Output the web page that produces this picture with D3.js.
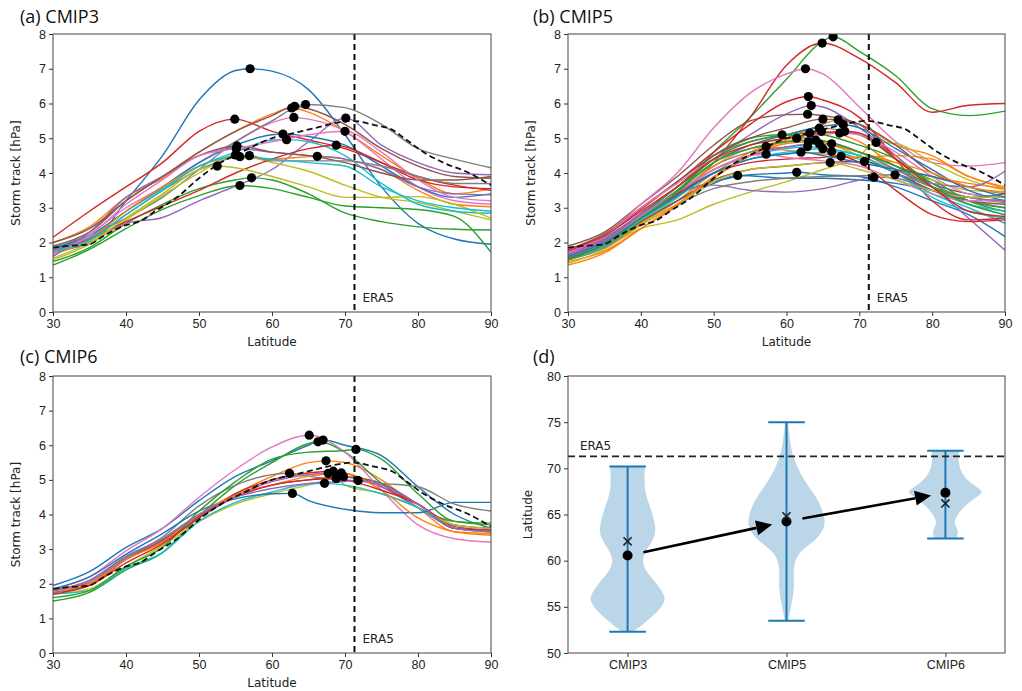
<!DOCTYPE html>
<html>
<head>
<meta charset="utf-8">
<script src="https://cdnjs.cloudflare.com/ajax/libs/d3/7.8.5/d3.min.js"></script>
<style>
  body { margin: 0; background: #fff; }
  svg { display: block; }
</style>
</head>
<body>
<div id="chart"></div>
<script>
// latitudes where every model curve is sampled
var latGrid = [30, 35, 40, 45, 50, 55, 60, 65, 70, 75, 80, 85, 90];

// ERA5 reference storm track (dashed) and its peak latitude
var era5Curve = [[30,1.85],[32,1.9],[35,1.95],[37,2.2],[40,2.5],[42,2.62],[44,2.9],[47,3.3],[50,3.85],[53,4.3],[56,4.62],[60,5.0],[63,5.15],[66,5.3],[69,5.45],[71,5.5],[74,5.38],[76.5,5.24],[78,5.02],[81,4.57],[84,4.25],[86.5,4.05],[90,3.65]];
var era5Lat = 71.3;

// CMIP3 models: values on latGrid, and [lat, value] of each maximum
var cmip3Values = [
  [1.8,1.95,3.2,4.5,6.1,6.95,6.93,6.4,5.1,3.6,2.55,2.1,1.95],
  [2.0,2.45,3.3,3.85,4.6,5.2,5.7,5.75,5.2,4.5,3.85,3.4,3.55],
  [1.45,1.85,2.55,3.1,3.55,3.8,3.8,3.4,2.85,2.6,2.45,2.38,2.36],
  [2.15,2.9,3.6,4.3,5.2,5.5,5.2,4.95,4.7,4.3,3.9,3.65,3.5],
  [1.7,2.0,2.55,2.72,3.2,3.62,4.1,4.9,5.55,4.8,4.3,4.0,3.95],
  [1.9,2.3,3.2,3.9,4.6,5.2,5.65,5.85,5.4,4.7,4.2,3.9,3.85],
  [1.75,2.25,3.0,3.6,4.3,4.9,5.45,5.55,5.2,4.4,3.6,3.2,3.1],
  [1.9,2.2,2.7,3.3,4.1,4.9,5.5,5.96,5.88,5.4,4.7,4.4,4.15],
  [1.5,1.95,2.65,3.35,4.0,4.5,4.3,4.05,3.65,3.3,3.15,2.9,2.65],
  [1.85,2.15,2.9,3.55,4.2,4.6,4.95,4.9,4.5,3.7,3.1,2.9,2.84],
  [1.85,2.2,2.9,3.6,4.3,4.8,5.1,5.05,4.8,4.2,3.6,3.3,3.4],
  [1.65,2.1,2.9,3.6,4.2,4.45,4.4,4.47,4.4,4.1,3.5,3.1,3.03],
  [1.35,1.8,2.4,2.95,3.35,3.62,3.55,3.3,3.05,3.0,2.95,2.75,1.72],
  [1.8,2.1,2.6,3.05,3.5,4.0,4.4,4.7,4.75,4.3,3.8,3.6,3.55],
  [1.6,2.3,3.3,3.9,4.5,4.7,4.6,4.5,4.4,4.1,3.6,3.4,3.37],
  [2.0,2.4,3.2,3.9,4.5,4.75,4.6,4.5,4.3,4.0,3.8,3.8,3.9],
  [1.7,2.2,3.1,3.8,4.5,4.7,4.9,5.1,5.2,4.6,3.8,3.3,3.2],
  [1.8,2.1,2.8,3.5,4.1,4.45,4.35,4.35,4.35,4.2,3.9,3.7,3.7],
  [1.55,2.0,2.7,3.4,4.1,4.15,3.9,3.6,3.3,3.3,3.32,3.1,2.7],
  [1.75,2.05,2.8,3.5,4.2,4.45,4.4,4.3,4.2,3.6,3.2,3.0,2.9]
];
var cmip3Peaks = [[57,7.0],[62.7,5.87],[57.2,3.86],[54.9,5.55],[70.1,5.58],[63.1,5.92],[63.0,5.6],[64.6,5.97],[55,4.52],[62,4.96],[61.5,5.12],[66.2,4.48],[55.6,3.64],[68.8,4.8],[55.1,4.7],[55.2,4.78],[70,5.2],[56.9,4.5],[52.5,4.2],[55.6,4.47]];

// CMIP5 models
var cmip5Values = [
  [1.7,2.1,2.8,3.4,3.75,3.95,4.0,3.95,3.9,3.6,3.2,2.8,2.17],
  [1.5,1.85,2.55,3.2,4.0,4.6,5.0,5.4,5.4,4.8,4.5,3.9,3.6],
  [1.65,2.05,2.75,3.45,4.6,5.6,6.7,7.8,7.5,6.8,5.85,5.65,5.78],
  [1.6,2.0,2.7,3.3,4.3,5.6,7.1,7.72,7.3,6.6,5.75,5.95,6.0],
  [1.7,2.1,2.85,3.6,4.4,5.1,5.7,5.9,5.3,4.5,3.6,2.7,1.78],
  [1.9,2.3,3.1,3.9,4.8,5.5,5.68,5.65,5.4,4.4,3.7,3.4,3.3],
  [1.75,2.2,3.1,4.0,5.3,6.3,6.85,6.85,5.9,4.9,4.3,4.2,4.3],
  [1.7,2.15,2.8,3.6,4.5,4.9,5.1,5.28,5.1,4.4,3.6,3.3,3.2],
  [1.5,1.85,2.4,2.65,3.1,3.45,3.75,4.1,4.5,4.85,4.3,3.8,3.5],
  [1.6,1.95,2.65,3.35,4.0,4.4,4.55,4.6,4.4,4.0,3.4,3.0,2.55],
  [1.55,1.9,2.6,3.2,3.7,3.92,3.85,3.85,3.8,3.7,3.5,3.3,3.4],
  [1.45,1.75,2.4,3.05,3.85,4.5,4.95,5.2,4.9,4.2,3.9,3.7,3.55],
  [1.6,2.0,2.8,3.6,4.5,5.0,5.05,4.9,4.6,4.2,3.8,3.2,2.9],
  [1.75,2.2,2.95,3.75,4.6,5.4,6.05,6.1,5.6,4.4,3.2,2.65,2.7],
  [1.7,2.1,2.8,3.4,3.65,3.5,3.45,3.55,3.8,3.85,3.5,3.2,3.0],
  [1.8,2.25,3.0,3.75,4.5,5.0,5.3,5.55,5.4,4.8,4.0,3.6,3.4],
  [1.7,2.2,3.0,3.7,4.4,4.7,4.9,5.1,5.1,4.6,3.9,3.4,3.3],
  [1.6,2.0,2.7,3.4,4.2,4.6,4.75,4.84,4.6,4.1,3.6,3.3,3.15],
  [1.5,1.9,2.6,3.3,4.3,4.8,4.98,4.9,4.5,4.1,3.8,3.5,3.45],
  [1.65,2.0,2.7,3.4,4.1,4.5,4.7,4.7,4.5,4.0,3.5,3.1,2.9],
  [1.6,2.0,2.75,3.5,4.3,4.8,5.1,5.35,5.3,4.7,4.1,3.5,3.2],
  [1.6,2.0,2.7,3.4,4.2,4.7,4.65,4.55,4.45,4.5,4.4,3.9,3.55],
  [1.55,1.95,2.7,3.5,4.4,4.9,5.1,5.1,4.8,4.4,3.7,3.2,3.0],
  [1.6,2.05,2.75,3.4,4.0,4.3,4.4,4.45,4.3,3.5,2.8,2.6,2.65],
  [1.65,2.05,2.8,3.45,4.1,4.5,4.75,4.82,4.6,4.1,3.7,3.6,4.05],
  [1.55,1.9,2.6,3.2,3.8,4.1,4.2,4.3,4.33,4.0,3.5,3.2,3.1],
  [1.6,2.0,2.75,3.45,4.1,4.5,4.45,4.35,4.2,3.8,3.4,3.2,3.2],
  [1.5,1.85,2.5,3.1,3.55,3.75,3.85,3.9,3.92,3.93,3.6,3.3,3.2],
  [1.4,1.8,2.5,3.1,3.75,4.1,4.2,4.3,4.1,3.8,3.5,3.3,3.3],
  [1.5,1.9,2.65,3.3,4.0,4.4,4.6,4.7,4.5,4.0,3.3,2.9,2.7],
  [1.6,2.0,2.7,3.35,4.0,4.4,4.55,4.5,4.3,4.1,3.9,3.6,3.3],
  [1.35,1.7,2.4,3.1,3.9,4.5,4.85,4.85,4.6,4.3,4.0,3.6,3.45],
  [1.5,1.95,2.7,3.45,4.3,4.7,4.9,4.9,4.6,4.2,3.6,3.1,2.8],
  [1.8,2.2,2.9,3.6,4.4,4.8,5.0,5.15,5.15,4.4,3.6,2.9,2.75]
];
var cmip5Peaks = [[61.4,4.02],[67.1,5.53],[66.4,7.92],[64.9,7.74],[63.4,5.94],[62.9,5.69],[62.6,7.0],[64.5,5.29],[72.3,4.88],[66.2,4.62],[53.3,3.93],[64.8,5.2],[59.4,5.1],[63.0,6.2],[72,3.88],[65,5.55],[67.3,5.15],[66.2,4.84],[61.4,5.0],[62.9,4.76],[67.8,5.39],[57.2,4.76],[63.2,5.15],[67.5,4.48],[64.5,4.84],[70.7,4.33],[57.2,4.54],[74.9,3.95],[66,4.3],[65,4.7],[62,4.6],[63,4.9],[64,4.95],[68,5.2]];

// CMIP6 models
var cmip6Values = [
  [1.95,2.35,3.05,3.6,4.4,5.1,5.55,6.0,6.0,5.7,4.8,4.0,3.6],
  [1.8,2.1,2.75,3.25,4.0,4.6,5.1,5.5,5.5,5.0,4.2,3.5,3.45],
  [1.5,1.75,2.4,2.9,3.95,4.85,5.5,6.05,5.8,4.9,4.2,3.8,3.75],
  [1.75,1.95,2.7,3.2,3.9,4.6,5.0,5.2,5.2,4.8,4.3,3.7,3.6],
  [1.8,2.05,2.75,3.3,4.0,4.55,4.95,5.15,5.1,4.8,4.2,3.6,3.5],
  [1.85,2.0,2.7,3.25,3.95,4.55,4.85,5.0,5.08,4.9,4.3,3.65,3.55],
  [1.85,2.2,2.95,3.6,4.5,5.3,5.95,6.28,5.8,4.7,3.7,3.3,3.2],
  [1.75,2.0,2.75,3.35,4.25,4.85,5.15,5.1,5.0,4.9,4.8,4.3,4.1],
  [1.7,1.85,2.5,3.1,3.8,4.3,4.6,4.85,4.85,4.6,4.2,3.7,3.6],
  [1.7,1.8,2.45,2.9,3.8,4.35,4.65,4.88,4.85,4.6,4.2,3.6,3.5],
  [1.85,2.2,2.85,3.45,4.1,4.45,4.6,4.4,4.15,4.05,4.05,4.35,4.35],
  [1.8,2.0,2.7,3.2,4.0,4.55,4.85,5.1,5.15,4.7,3.9,3.5,3.4],
  [1.6,1.8,2.5,3.05,4.1,4.95,5.6,5.8,5.85,5.6,4.6,3.8,3.7],
  [1.7,1.95,2.6,3.15,3.9,4.5,4.85,5.0,5.0,4.7,4.3,3.6,3.55],
  [1.8,2.1,2.8,3.3,4.0,4.5,4.75,4.9,4.95,4.85,4.3,3.6,3.5]
];
var cmip6Peaks = [[67,6.15],[67.4,5.55],[66.3,6.1],[68.4,5.25],[67.7,5.19],[69.8,5.09],[65.1,6.29],[62.4,5.19],[68.8,5.04],[67.2,4.9],[62.8,4.61],[69.5,5.2],[71.5,5.88],[68.8,5.04],[71.8,4.98]];

// panel (d): storm track peak latitude distributions
var groups = ["CMIP3", "CMIP5", "CMIP6"];
var groupMin = [52.3, 53.5, 62.4];
var groupMax = [70.2, 75.0, 71.9];
var groupDot = [60.55, 64.25, 67.35];
var groupCross = [62.1, 64.8, 66.2];
// relative density (1 = widest) along latitude
var violinCmip3 = [[52.3,0.14],[52.7,0.27],[53.6,0.52],[54.7,0.82],[55.8,0.96],[56.5,0.9],[57.9,0.67],[59.0,0.42],[60.4,0.35],[61.9,0.6],[63.0,0.72],[64.4,0.67],[65.8,0.57],[67.3,0.44],[68.7,0.42],[70.2,0.44]];
var violinCmip5 = [[53.5,0.04],[54.3,0.08],[55.8,0.15],[57.2,0.2],[58.6,0.17],[60.1,0.21],[61.2,0.38],[62.25,0.76],[63.7,0.98],[64.8,0.96],[66.6,0.8],[68.0,0.56],[69.45,0.34],[71.25,0.16],[73,0.08],[75.0,0.04]];
var violinCmip6 = [[62.4,0.28],[63.3,0.34],[64.05,0.19],[65.1,0.32],[66.2,0.54],[67.3,0.94],[67.65,0.92],[68.7,0.52],[70.2,0.32],[71.9,0.34]];

var W = 1022, H = 691;
var svg = d3.select("#chart").append("svg")
    .attr("width", W).attr("height", H)
    .style("font-family", "DejaVu Sans, sans-serif");

function styleAxis(sel) {
  sel.select(".domain").remove();
  sel.selectAll(".tick line").attr("stroke", "#333");
  sel.selectAll(".tick text").attr("fill", "#222").style("font-size", "12.5px");
}

function frame(g, l, t, r, b) {
  g.append("rect").attr("x", l).attr("y", t).attr("width", r - l).attr("height", b - t)
    .attr("fill", "none").attr("stroke", "#444").attr("stroke-width", 1);
}

function title(txt, x, y) {
  svg.append("text").attr("x", x).attr("y", y).text(txt)
    .style("font-family", "Open Sans, sans-serif").style("font-size", "18px").attr("fill", "#111");
}

function linePanel(id, txt, values, peaks, l, t, r, b) {
  var x = d3.scaleLinear().domain([30, 90]).range([l, r]);
  var y = d3.scaleLinear().domain([0, 8]).range([b, t]);
  var g = svg.append("g");

  g.append("clipPath").attr("id", "clip" + id)
    .append("rect").attr("x", l).attr("y", t).attr("width", r - l).attr("height", b - t);
  var plot = g.append("g").attr("clip-path", "url(#clip" + id + ")");

  var line = d3.line()
    .x(function(d) { return x(d[0]); })
    .y(function(d) { return y(d[1]); })
    .curve(d3.curveMonotoneX);

  values.forEach(function(v, i) {
    var pk = peaks[i];
    var pts = latGrid.map(function(la, j) { return [la, v[j]]; })
      .filter(function(d) { return Math.abs(d[0] - pk[0]) > 1.2; });
    pts.push(pk);
    pts.sort(function(a, c) { return a[0] - c[0]; });
    plot.append("path").datum(pts)
      .attr("fill", "none")
      .attr("stroke", d3.schemeCategory10[i % 10])
      .attr("stroke-width", 1.4)
      .attr("d", line);
  });

  plot.append("path").datum(era5Curve)
    .attr("fill", "none").attr("stroke", "#111")
    .attr("stroke-width", 1.8).attr("stroke-dasharray", "6,3.5")
    .attr("d", line);

  plot.selectAll("circle.pk").data(peaks).enter().append("circle")
    .attr("cx", function(d) { return x(d[0]); })
    .attr("cy", function(d) { return y(d[1]); })
    .attr("r", 4.6).attr("fill", "#000");

  g.append("line")
    .attr("x1", x(era5Lat)).attr("x2", x(era5Lat)).attr("y1", t).attr("y2", b)
    .attr("stroke", "#111").attr("stroke-width", 2).attr("stroke-dasharray", "6,4");
  g.append("text").attr("x", x(era5Lat) + 8).attr("y", y(0.28)).text("ERA5")
    .style("font-size", "12px").attr("fill", "#222");

  g.append("g").attr("transform", "translate(0," + b + ")")
    .call(d3.axisBottom(x).tickValues([30, 40, 50, 60, 70, 80, 90]).tickSize(4).tickPadding(3))
    .call(styleAxis);
  g.append("g").attr("transform", "translate(" + l + ",0)")
    .call(d3.axisLeft(y).tickValues([0, 1, 2, 3, 4, 5, 6, 7, 8]).tickSize(4).tickPadding(3))
    .call(styleAxis);
  frame(g, l, t, r, b);

  g.append("text").attr("x", (l + r) / 2).attr("y", b + 34).attr("text-anchor", "middle")
    .text("Latitude").style("font-size", "12px").attr("fill", "#222");
  g.append("text").attr("transform", "translate(" + (l - 33) + "," + ((t + b) / 2) + ") rotate(-90)")
    .attr("text-anchor", "middle").text("Storm track [hPa]")
    .style("font-size", "12px").attr("fill", "#222");
}

linePanel("a", "(a) CMIP3", cmip3Values, cmip3Peaks, 53, 34, 491, 312);
linePanel("b", "(b) CMIP5", cmip5Values, cmip5Peaks, 568, 34, 1005, 312);
linePanel("c", "(c) CMIP6", cmip6Values, cmip6Peaks, 53, 376, 491, 653);
title("(a) CMIP3", 20, 23);
title("(b) CMIP5", 533, 23);
title("(c) CMIP6", 20, 363);
title("(d)", 533, 363);

// panel (d) violins
(function() {
  var l = 568, t = 376, r = 1005, b = 653;
  var xc = d3.scaleLinear().domain([0.625, 3.375]).range([l, r]);
  var yl = d3.scaleLinear().domain([50, 80]).range([b, t]);
  var g = svg.append("g");
  var violins = [violinCmip3, violinCmip5, violinCmip6];

  violins.forEach(function(prof, i) {
    var c = i + 1;
    var area = d3.area()
      .y(function(d) { return yl(d[0]); })
      .x0(function(d) { return xc(c - d[1] * 0.25); })
      .x1(function(d) { return xc(c + d[1] * 0.25); })
      .curve(d3.curveBasis);
    g.append("path").datum(prof).attr("d", area)
      .attr("fill", "#1f77b4").attr("fill-opacity", 0.3);
    var blue = "#1f77b4";
    g.append("line").attr("x1", xc(c)).attr("x2", xc(c))
      .attr("y1", yl(groupMin[i])).attr("y2", yl(groupMax[i]))
      .attr("stroke", blue).attr("stroke-width", 2);
    [groupMin[i], groupMax[i]].forEach(function(v) {
      g.append("line").attr("x1", xc(c - 0.115)).attr("x2", xc(c + 0.115))
        .attr("y1", yl(v)).attr("y2", yl(v))
        .attr("stroke", blue).attr("stroke-width", 2);
    });
  });

  // ERA5 line
  g.append("line").attr("x1", l).attr("x2", r).attr("y1", yl(era5Lat)).attr("y2", yl(era5Lat))
    .attr("stroke", "#222").attr("stroke-width", 1.8).attr("stroke-dasharray", "7,4");
  g.append("text").attr("x", xc(0.7)).attr("y", yl(era5Lat) - 6).text("ERA5")
    .style("font-size", "12px").attr("fill", "#222");

  // arrows between group dots
  for (var i = 0; i < 2; i++) {
    var p0 = [xc(i + 1), yl(groupDot[i])], p1 = [xc(i + 2), yl(groupDot[i + 1])];
    var s = [p0[0] + (p1[0] - p0[0]) * 0.1, p0[1] + (p1[1] - p0[1]) * 0.1];
    var e = [p0[0] + (p1[0] - p0[0]) * 0.91, p0[1] + (p1[1] - p0[1]) * 0.91];
    var ang = Math.atan2(e[1] - s[1], e[0] - s[0]);
    var hl = 16, hw = 7.5;
    var base = [e[0] - hl * Math.cos(ang), e[1] - hl * Math.sin(ang)];
    g.append("line").attr("x1", s[0]).attr("y1", s[1]).attr("x2", base[0]).attr("y2", base[1])
      .attr("stroke", "#000").attr("stroke-width", 2.6);
    var nx = -Math.sin(ang), ny = Math.cos(ang);
    g.append("path").attr("d", "M" + e[0] + "," + e[1] +
        "L" + (base[0] + nx * hw) + "," + (base[1] + ny * hw) +
        "L" + (base[0] - nx * hw) + "," + (base[1] - ny * hw) + "Z")
      .attr("fill", "#000");
  }

  g.selectAll("circle.gd").data(groupDot).enter().append("circle")
    .attr("cx", function(d, i) { return xc(i + 1); })
    .attr("cy", function(d) { return yl(d); })
    .attr("r", 5).attr("fill", "#000");
  g.selectAll("path.gx").data(groupCross).enter().append("path")
    .attr("transform", function(d, i) { return "translate(" + xc(i + 1) + "," + yl(d) + ")"; })
    .attr("d", d3.symbol(d3.symbolX, 45))
    .attr("fill", "none").attr("stroke", "#222").attr("stroke-width", 1.6);

  g.append("g").attr("transform", "translate(0," + b + ")")
    .call(d3.axisBottom(xc).tickValues([1, 2, 3]).tickFormat(function(d) { return groups[d - 1]; }).tickSize(4).tickPadding(3))
    .call(styleAxis);
  g.append("g").attr("transform", "translate(" + l + ",0)")
    .call(d3.axisLeft(yl).tickValues([50, 55, 60, 65, 70, 75, 80]).tickSize(4).tickPadding(3))
    .call(styleAxis);
  frame(g, l, t, r, b);
  g.append("text").attr("transform", "translate(" + (l - 36) + "," + ((t + b) / 2) + ") rotate(-90)")
    .attr("text-anchor", "middle").text("Latitude")
    .style("font-size", "12px").attr("fill", "#222");
})();
</script>
</body>
</html>
